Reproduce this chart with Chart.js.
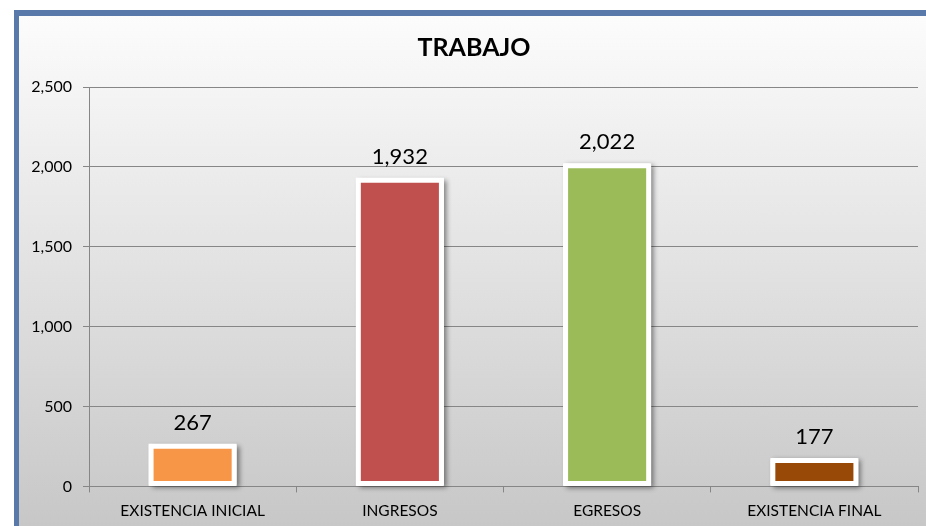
<!DOCTYPE html>
<html>
<head>
<meta charset="utf-8">
<script src="https://cdn.jsdelivr.net/npm/chart.js@4/dist/chart.umd.min.js"></script>
<style>
  html, body { margin: 0; padding: 0; background: #ffffff; overflow: hidden; }
  #frame {
    position: absolute; left: 14px; top: 10px; width: 940px; height: 540px;
    border-left: 5px solid #5A79AB; border-top: 6px solid #5A79AB;
    background: linear-gradient(to bottom, #FCFCFC 0%, #C4C4C4 100%);
  }
  #wrap { position: absolute; left: 0; top: 0; width: 926px; height: 526px; }
</style>
</head>
<body>
<div id="frame"></div>
<div id="wrap"><canvas id="c" width="926" height="526"></canvas></div>
<script>
const chartTitle = "TRABAJO";
const categories = ["EXISTENCIA INICIAL", "INGRESOS", "EGRESOS", "EXISTENCIA FINAL"];
const values = [267, 1932, 2022, 177];
const barColors = ["#F79646", "#C0504D", "#9BBB59", "#984807"];
const yTicks = [0, 500, 1000, 1500, 2000, 2500];

const FONT = "Lato, 'Open Sans', sans-serif";
const fmt = v => Number(v).toLocaleString('en-US');

const shadowPlugin = {
  id: 'barShadow',
  beforeDatasetsDraw(chart) {
    const ctx = chart.ctx;
    const meta = chart.getDatasetMeta(0);
    ctx.save();
    ctx.shadowColor = 'rgba(0,0,0,0.45)';
    ctx.shadowBlur = 5;
    ctx.shadowOffsetX = 3;
    ctx.shadowOffsetY = 2;
    ctx.fillStyle = '#ffffff';
    meta.data.forEach(el => {
      const p = el.getProps(['x', 'y', 'base', 'width'], true);
      ctx.fillRect(p.x - p.width / 2, p.y, p.width, p.base - p.y);
    });
    ctx.restore();
  }
};

const labelPlugin = {
  id: 'valueLabels',
  afterDatasetsDraw(chart) {
    const ctx = chart.ctx;
    const meta = chart.getDatasetMeta(0);
    ctx.save();
    ctx.font = "22px " + FONT;
    ctx.fillStyle = '#000000';
    ctx.textAlign = 'center';
    ctx.textBaseline = 'alphabetic';
    meta.data.forEach((el, i) => {
      const p = el.getProps(['x', 'y'], true);
      ctx.fillText(fmt(values[i]), p.x, p.y - 14);
    });
    ctx.restore();
  }
};

new Chart(document.getElementById('c'), {
  type: 'bar',
  data: {
    labels: categories,
    datasets: [{
      data: values,
      backgroundColor: barColors,
      borderColor: '#ffffff',
      borderWidth: 5,
      borderSkipped: false,
      borderRadius: 2,
      barPercentage: 0.425,
      categoryPercentage: 1.0
    }]
  },
  options: {
    responsive: false,
    animation: false,
    devicePixelRatio: 1,
    layout: { padding: { left: 30, right: 8, top: 33, bottom: -3 } },
    plugins: {
      legend: { display: false },
      tooltip: { enabled: false },
      title: {
        display: true,
        text: chartTitle,
        color: '#000000',
        font: { family: FONT, size: 25, weight: 'bold', lineHeight: 1.2 },
        padding: { top: 0, bottom: 24 }
      }
    },
    scales: {
      x: {
        grid: { display: true, drawOnChartArea: false, offset: true, tickLength: 6, color: '#868686' },
        border: { display: true, color: '#868686' },
        ticks: { color: '#000000', font: { family: FONT, size: 15.5 }, padding: 9, maxRotation: 0 }
      },
      y: {
        min: 0, max: 2500,
        afterBuildTicks: s => { s.ticks = yTicks.map(v => ({ value: v })); },
        afterFit: s => { s.width = 59; },
        grid: { color: '#868686', tickLength: 6 },
        border: { display: true, color: '#868686' },
        ticks: { color: '#000000', font: { family: FONT, size: 16 }, padding: 11, callback: v => fmt(v) }
      }
    }
  },
  plugins: [shadowPlugin, labelPlugin]
});
</script>
</body>
</html>
